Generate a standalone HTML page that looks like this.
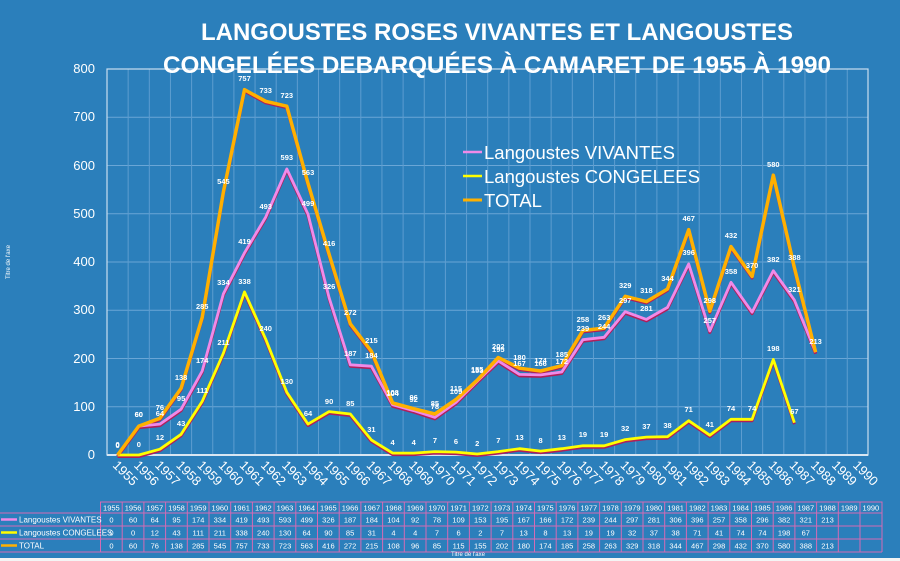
<!DOCTYPE html>
<html><head><meta charset="utf-8"><style>
body{margin:0;background:#2b7fbb;}
svg{display:block;font-family:"Liberation Sans",sans-serif;}
.t{fill:#fff;font-weight:bold;font-size:7.5px;text-anchor:middle;}
.ax{fill:#fff;font-size:13px;}
.tb{fill:#fff;font-size:7.5px;text-anchor:middle;}
</style></head><body>
<svg width="900" height="561" viewBox="0 0 900 561" xmlns="http://www.w3.org/2000/svg">
<rect width="900" height="561" fill="#2b7fbb"/>
<g stroke="#6aa6d6" stroke-width="1">
<line x1="107" y1="406.75" x2="868" y2="406.75"/><line x1="107" y1="358.5" x2="868" y2="358.5"/><line x1="107" y1="310.25" x2="868" y2="310.25"/><line x1="107" y1="262" x2="868" y2="262"/><line x1="107" y1="213.75" x2="868" y2="213.75"/><line x1="107" y1="165.5" x2="868" y2="165.5"/><line x1="107" y1="117.25" x2="868" y2="117.25"/>
</g>
<g stroke="#5d9dd0" stroke-width="1" id="vg">
<line x1="128.15" y1="69" x2="128.15" y2="455"/><line x1="149.3" y1="69" x2="149.3" y2="455"/><line x1="170.45" y1="69" x2="170.45" y2="455"/><line x1="191.6" y1="69" x2="191.6" y2="455"/><line x1="212.75" y1="69" x2="212.75" y2="455"/><line x1="233.9" y1="69" x2="233.9" y2="455"/><line x1="255.05" y1="69" x2="255.05" y2="455"/><line x1="276.2" y1="69" x2="276.2" y2="455"/><line x1="297.35" y1="69" x2="297.35" y2="455"/><line x1="318.5" y1="69" x2="318.5" y2="455"/><line x1="339.65" y1="69" x2="339.65" y2="455"/><line x1="360.8" y1="69" x2="360.8" y2="455"/><line x1="381.95" y1="69" x2="381.95" y2="455"/><line x1="403.1" y1="69" x2="403.1" y2="455"/><line x1="424.25" y1="69" x2="424.25" y2="455"/><line x1="445.4" y1="69" x2="445.4" y2="455"/><line x1="466.55" y1="69" x2="466.55" y2="455"/><line x1="487.7" y1="69" x2="487.7" y2="455"/><line x1="508.85" y1="69" x2="508.85" y2="455"/><line x1="530" y1="69" x2="530" y2="455"/><line x1="551.15" y1="69" x2="551.15" y2="455"/><line x1="572.3" y1="69" x2="572.3" y2="455"/><line x1="593.45" y1="69" x2="593.45" y2="455"/><line x1="614.6" y1="69" x2="614.6" y2="455"/><line x1="635.75" y1="69" x2="635.75" y2="455"/><line x1="656.9" y1="69" x2="656.9" y2="455"/><line x1="678.05" y1="69" x2="678.05" y2="455"/><line x1="699.2" y1="69" x2="699.2" y2="455"/><line x1="720.35" y1="69" x2="720.35" y2="455"/><line x1="741.5" y1="69" x2="741.5" y2="455"/><line x1="762.65" y1="69" x2="762.65" y2="455"/><line x1="783.8" y1="69" x2="783.8" y2="455"/><line x1="804.95" y1="69" x2="804.95" y2="455"/><line x1="826.1" y1="69" x2="826.1" y2="455"/><line x1="847.25" y1="69" x2="847.25" y2="455"/><line x1="868" y1="69" x2="868" y2="455"/>
</g>
<rect x="107" y="69" width="761" height="386" fill="none" stroke="#c9def0" stroke-width="1.2"/>
<line x1="107" y1="455" x2="868" y2="455" stroke="#d8e6f2" stroke-width="2"/>
<g class="ax" text-anchor="end">
<text x="95" y="459">0</text><text x="95" y="411">100</text><text x="95" y="363">200</text><text x="95" y="314">300</text><text x="95" y="266">400</text><text x="95" y="218">500</text><text x="95" y="170">600</text><text x="95" y="121">700</text><text x="95" y="73">800</text>
</g>
<text transform="translate(10,262) rotate(-90)" fill="#fff" font-size="6" text-anchor="middle">Titre de l'axe</text>
<!-- title -->
<text x="497" y="40" fill="#fff" font-weight="bold" font-size="24" text-anchor="middle" textLength="592" lengthAdjust="spacingAndGlyphs">LANGOUSTES ROSES VIVANTES  ET LANGOUSTES</text>
<text x="497" y="73" fill="#fff" font-weight="bold" font-size="24" text-anchor="middle" textLength="668" lengthAdjust="spacingAndGlyphs">CONGELÉES DEBARQUÉES À CAMARET DE 1955 À 1990</text>
<!-- shadows -->
<g fill="none" stroke="#b01e5a" stroke-width="3" stroke-linejoin="round" transform="translate(0,1.5)">
<polyline points="117.6,455 138.8,455 159.9,449.2 181.1,434.3 202.2,401.4 223.4,353.2 244.5,291.9 265.7,339.2 286.8,392.3 308,424.1 329.1,411.6 350.3,414 371.4,440 392.6,453.1 413.7,453.1 434.9,451.6 456,452.1 477.2,454 498.3,451.6 519.5,448.7 540.6,451.1 561.8,448.7 582.9,445.8 604.1,445.8 625.2,439.6 646.4,437.1 667.5,436.7 688.7,420.7 709.8,435.2 731,419.3 752.1,419.3 773.3,359.5 794.4,422.7"/>
<polyline points="117.6,455 138.8,426.1 159.9,424.1 181.1,409.2 202.2,371 223.4,293.8 244.5,252.8 265.7,217.1 286.8,168.9 308,214.2 329.1,297.7 350.3,364.8 371.4,366.2 392.6,404.8 413.7,410.6 434.9,417.4 456,402.4 477.2,381.2 498.3,360.9 519.5,374.4 540.6,374.9 561.8,372 582.9,339.7 604.1,337.3 625.2,311.7 646.4,319.4 667.5,307.4 688.7,263.9 709.8,331 731,282.3 752.1,312.2 773.3,270.7 794.4,300.1 815.6,352.2"/>
<polyline points="117.6,455 138.8,426.1 159.9,418.3 181.1,388.4 202.2,317.5 223.4,192 244.5,89.7 265.7,101.3 286.8,106.2 308,183.4 329.1,254.3 350.3,323.8 371.4,351.3 392.6,402.9 413.7,408.7 434.9,414 456,399.5 477.2,380.2 498.3,357.5 519.5,368.2 540.6,371 561.8,365.7 582.9,330.5 604.1,328.1 625.2,296.3 646.4,301.6 667.5,289 688.7,229.7 709.8,311.2 731,246.6 752.1,276.5 773.3,175.2 794.4,267.8 815.6,352.2"/>
</g>
<polyline fill="none" stroke="#ffff00" stroke-width="2.8" stroke-linejoin="round" points="117.6,455 138.8,455 159.9,449.2 181.1,434.3 202.2,401.4 223.4,353.2 244.5,291.9 265.7,339.2 286.8,392.3 308,424.1 329.1,411.6 350.3,414 371.4,440 392.6,453.1 413.7,453.1 434.9,451.6 456,452.1 477.2,454 498.3,451.6 519.5,448.7 540.6,451.1 561.8,448.7 582.9,445.8 604.1,445.8 625.2,439.6 646.4,437.1 667.5,436.7 688.7,420.7 709.8,435.2 731,419.3 752.1,419.3 773.3,359.5 794.4,422.7"/>
<polyline fill="none" stroke="#f08ae8" stroke-width="2.8" stroke-linejoin="round" points="117.6,455 138.8,426.1 159.9,424.1 181.1,409.2 202.2,371 223.4,293.8 244.5,252.8 265.7,217.1 286.8,168.9 308,214.2 329.1,297.7 350.3,364.8 371.4,366.2 392.6,404.8 413.7,410.6 434.9,417.4 456,402.4 477.2,381.2 498.3,360.9 519.5,374.4 540.6,374.9 561.8,372 582.9,339.7 604.1,337.3 625.2,311.7 646.4,319.4 667.5,307.4 688.7,263.9 709.8,331 731,282.3 752.1,312.2 773.3,270.7 794.4,300.1 815.6,352.2"/>
<polyline fill="none" stroke="#ffb000" stroke-width="3.5" stroke-linejoin="round" points="117.6,455 138.8,426.1 159.9,418.3 181.1,388.4 202.2,317.5 223.4,192 244.5,89.7 265.7,101.3 286.8,106.2 308,183.4 329.1,254.3 350.3,323.8 371.4,351.3 392.6,402.9 413.7,408.7 434.9,414 456,399.5 477.2,380.2 498.3,357.5 519.5,368.2 540.6,371 561.8,365.7 582.9,330.5 604.1,328.1 625.2,296.3 646.4,301.6 667.5,289 688.7,229.7 709.8,311.2 731,246.6 752.1,276.5 773.3,175.2 794.4,267.8 815.6,352.2"/>
<!-- data labels -->
<g class="t">
<text x="117.6" y="448">0</text><text x="138.8" y="447">0</text><text x="159.9" y="440">12</text><text x="181.1" y="426">43</text><text x="202.2" y="393">111</text><text x="223.4" y="345">211</text><text x="244.5" y="284">338</text><text x="265.7" y="331">240</text><text x="286.8" y="384">130</text><text x="308" y="416">64</text><text x="329.1" y="404">90</text><text x="350.3" y="406">85</text><text x="371.4" y="432">31</text><text x="392.6" y="445">4</text><text x="413.7" y="445">4</text><text x="434.9" y="443">7</text><text x="456" y="444">6</text><text x="477.2" y="446">2</text><text x="498.3" y="443">7</text><text x="519.5" y="440">13</text><text x="540.6" y="443">8</text><text x="561.8" y="440">13</text><text x="582.9" y="437">19</text><text x="604.1" y="437">19</text><text x="625.2" y="431">32</text><text x="646.4" y="429">37</text><text x="667.5" y="428">38</text><text x="688.7" y="412">71</text><text x="709.8" y="427">41</text><text x="731" y="411">74</text><text x="752.1" y="411">74</text><text x="773.3" y="351">198</text><text x="794.4" y="414">67</text>
<text x="138.8" y="417">60</text><text x="159.9" y="416">64</text><text x="181.1" y="401">95</text><text x="202.2" y="363">174</text><text x="223.4" y="285">334</text><text x="244.5" y="244">419</text><text x="265.7" y="209">493</text><text x="286.8" y="160">593</text><text x="308" y="206">499</text><text x="329.1" y="289">326</text><text x="350.3" y="356">187</text><text x="371.4" y="358">184</text><text x="392.6" y="396">104</text><text x="413.7" y="402">92</text><text x="434.9" y="409">78</text><text x="456" y="394">109</text><text x="477.2" y="373">153</text><text x="498.3" y="352">195</text><text x="519.5" y="366">167</text><text x="540.6" y="366">166</text><text x="561.8" y="364">172</text><text x="582.9" y="331">239</text><text x="604.1" y="329">244</text><text x="625.2" y="303">297</text><text x="646.4" y="311">281</text><text x="688.7" y="255">396</text><text x="709.8" y="323">257</text><text x="731" y="274">358</text><text x="773.3" y="262">382</text><text x="794.4" y="292">321</text>
<text x="117.6" y="447">0</text><text x="138.8" y="417">60</text><text x="159.9" y="410">76</text><text x="181.1" y="380">138</text><text x="202.2" y="309">285</text><text x="223.4" y="184">545</text><text x="244.5" y="81">757</text><text x="265.7" y="93">733</text><text x="286.8" y="98">723</text><text x="308" y="175">563</text><text x="329.1" y="246">416</text><text x="350.3" y="315">272</text><text x="371.4" y="343">215</text><text x="392.6" y="395">108</text><text x="413.7" y="400">96</text><text x="434.9" y="406">85</text><text x="456" y="391">115</text><text x="477.2" y="372">155</text><text x="498.3" y="349">202</text><text x="519.5" y="360">180</text><text x="540.6" y="363">174</text><text x="561.8" y="357">185</text><text x="582.9" y="322">258</text><text x="604.1" y="320">263</text><text x="625.2" y="288">329</text><text x="646.4" y="293">318</text><text x="667.5" y="281">344</text><text x="688.7" y="221">467</text><text x="709.8" y="303">298</text><text x="731" y="238">432</text><text x="752.1" y="268">370</text><text x="773.3" y="167">580</text><text x="794.4" y="260">388</text><text x="815.6" y="344">213</text>
</g>
<!-- x labels -->
<g class="ax" font-size="12.5">
<text transform="translate(112,466) rotate(45)">1955</text><text transform="translate(133.2,466) rotate(45)">1956</text><text transform="translate(154.3,466) rotate(45)">1957</text><text transform="translate(175.5,466) rotate(45)">1958</text><text transform="translate(196.6,466) rotate(45)">1959</text><text transform="translate(217.8,466) rotate(45)">1960</text><text transform="translate(238.9,466) rotate(45)">1961</text><text transform="translate(260.1,466) rotate(45)">1962</text><text transform="translate(281.2,466) rotate(45)">1963</text><text transform="translate(302.4,466) rotate(45)">1964</text><text transform="translate(323.5,466) rotate(45)">1965</text><text transform="translate(344.7,466) rotate(45)">1966</text><text transform="translate(365.8,466) rotate(45)">1967</text><text transform="translate(387,466) rotate(45)">1968</text><text transform="translate(408.1,466) rotate(45)">1969</text><text transform="translate(429.3,466) rotate(45)">1970</text><text transform="translate(450.4,466) rotate(45)">1971</text><text transform="translate(471.6,466) rotate(45)">1972</text><text transform="translate(492.7,466) rotate(45)">1973</text><text transform="translate(513.9,466) rotate(45)">1974</text><text transform="translate(535,466) rotate(45)">1975</text><text transform="translate(556.2,466) rotate(45)">1976</text><text transform="translate(577.3,466) rotate(45)">1977</text><text transform="translate(598.5,466) rotate(45)">1978</text><text transform="translate(619.6,466) rotate(45)">1979</text><text transform="translate(640.8,466) rotate(45)">1980</text><text transform="translate(661.9,466) rotate(45)">1981</text><text transform="translate(683.1,466) rotate(45)">1982</text><text transform="translate(704.2,466) rotate(45)">1983</text><text transform="translate(725.4,466) rotate(45)">1984</text><text transform="translate(746.5,466) rotate(45)">1985</text><text transform="translate(767.7,466) rotate(45)">1986</text><text transform="translate(788.8,466) rotate(45)">1987</text><text transform="translate(810,466) rotate(45)">1988</text><text transform="translate(831.1,466) rotate(45)">1989</text><text transform="translate(852.3,466) rotate(45)">1990</text>
</g>
<!-- legend -->
<line x1="463" y1="152" x2="482" y2="152" stroke="#f08ae8" stroke-width="2.5"/>
<line x1="463" y1="176" x2="482" y2="176" stroke="#ffff00" stroke-width="2.5"/>
<line x1="463" y1="200" x2="482" y2="200" stroke="#ffb000" stroke-width="3"/>
<g fill="#fff" font-size="18.5">
<text x="484" y="159">Langoustes VIVANTES</text><text x="484" y="183">Langoustes CONGELEES</text><text x="484" y="207">TOTAL</text>
</g>
<!-- table -->
<g stroke="#d36bb5" stroke-width="1" fill="none">
<rect x="100.5" y="502" width="781.5" height="11"/>
<line x1="0" y1="513" x2="882" y2="513"/><line x1="0" y1="526" x2="882" y2="526"/><line x1="0" y1="539" x2="882" y2="539"/><line x1="0" y1="552" x2="882" y2="552"/>
<line x1="100.5" y1="502" x2="100.5" y2="552"/><line x1="882" y1="502" x2="882" y2="552"/>
<path d="M122.2 502V552M143.9 502V552M165.6 502V552M187.3 502V552M209 502V552M230.7 502V552M252.4 502V552M274.1 502V552M295.8 502V552M317.5 502V552M339.2 502V552M360.9 502V552M382.6 502V552M404.3 502V552M426 502V552M447.7 502V552M469.4 502V552M491.1 502V552M512.8 502V552M534.5 502V552M556.2 502V552M577.9 502V552M599.6 502V552M621.3 502V552M643 502V552M664.7 502V552M686.4 502V552M708.1 502V552M729.8 502V552M751.5 502V552M773.2 502V552M794.9 502V552M816.6 502V552M838.3 502V552M860 502V552"/>
</g>
<line x1="1" y1="519.5" x2="17" y2="519.5" stroke="#f08ae8" stroke-width="2.5"/>
<line x1="1" y1="532.5" x2="17" y2="532.5" stroke="#ffff00" stroke-width="2.5"/>
<line x1="1" y1="545.5" x2="17" y2="545.5" stroke="#ffb000" stroke-width="2.5"/>
<g fill="#fff" font-size="8"><text x="19" y="522.5">Langoustes VIVANTES</text><text x="19" y="535.5">Langoustes CONGELEES</text><text x="19" y="548.5">TOTAL</text></g>
<g class="tb">
<text x="111.4" y="510.5">1955</text><text x="133.1" y="510.5">1956</text><text x="154.8" y="510.5">1957</text><text x="176.5" y="510.5">1958</text><text x="198.2" y="510.5">1959</text><text x="219.9" y="510.5">1960</text><text x="241.6" y="510.5">1961</text><text x="263.3" y="510.5">1962</text><text x="285" y="510.5">1963</text><text x="306.7" y="510.5">1964</text><text x="328.4" y="510.5">1965</text><text x="350.1" y="510.5">1966</text><text x="371.8" y="510.5">1967</text><text x="393.5" y="510.5">1968</text><text x="415.2" y="510.5">1969</text><text x="436.9" y="510.5">1970</text><text x="458.6" y="510.5">1971</text><text x="480.3" y="510.5">1972</text><text x="502" y="510.5">1973</text><text x="523.7" y="510.5">1974</text><text x="545.4" y="510.5">1975</text><text x="567.1" y="510.5">1976</text><text x="588.8" y="510.5">1977</text><text x="610.5" y="510.5">1978</text><text x="632.2" y="510.5">1979</text><text x="653.9" y="510.5">1980</text><text x="675.6" y="510.5">1981</text><text x="697.3" y="510.5">1982</text><text x="719" y="510.5">1983</text><text x="740.7" y="510.5">1984</text><text x="762.4" y="510.5">1985</text><text x="784.1" y="510.5">1986</text><text x="805.8" y="510.5">1987</text><text x="827.5" y="510.5">1988</text><text x="849.2" y="510.5">1989</text><text x="870.9" y="510.5">1990</text>
<text x="111.4" y="522.5">0</text><text x="133.1" y="522.5">60</text><text x="154.8" y="522.5">64</text><text x="176.5" y="522.5">95</text><text x="198.2" y="522.5">174</text><text x="219.9" y="522.5">334</text><text x="241.6" y="522.5">419</text><text x="263.3" y="522.5">493</text><text x="285" y="522.5">593</text><text x="306.7" y="522.5">499</text><text x="328.4" y="522.5">326</text><text x="350.1" y="522.5">187</text><text x="371.8" y="522.5">184</text><text x="393.5" y="522.5">104</text><text x="415.2" y="522.5">92</text><text x="436.9" y="522.5">78</text><text x="458.6" y="522.5">109</text><text x="480.3" y="522.5">153</text><text x="502" y="522.5">195</text><text x="523.7" y="522.5">167</text><text x="545.4" y="522.5">166</text><text x="567.1" y="522.5">172</text><text x="588.8" y="522.5">239</text><text x="610.5" y="522.5">244</text><text x="632.2" y="522.5">297</text><text x="653.9" y="522.5">281</text><text x="675.6" y="522.5">306</text><text x="697.3" y="522.5">396</text><text x="719" y="522.5">257</text><text x="740.7" y="522.5">358</text><text x="762.4" y="522.5">296</text><text x="784.1" y="522.5">382</text><text x="805.8" y="522.5">321</text><text x="827.5" y="522.5">213</text>
<text x="111.4" y="535.5">0</text><text x="133.1" y="535.5">0</text><text x="154.8" y="535.5">12</text><text x="176.5" y="535.5">43</text><text x="198.2" y="535.5">111</text><text x="219.9" y="535.5">211</text><text x="241.6" y="535.5">338</text><text x="263.3" y="535.5">240</text><text x="285" y="535.5">130</text><text x="306.7" y="535.5">64</text><text x="328.4" y="535.5">90</text><text x="350.1" y="535.5">85</text><text x="371.8" y="535.5">31</text><text x="393.5" y="535.5">4</text><text x="415.2" y="535.5">4</text><text x="436.9" y="535.5">7</text><text x="458.6" y="535.5">6</text><text x="480.3" y="535.5">2</text><text x="502" y="535.5">7</text><text x="523.7" y="535.5">13</text><text x="545.4" y="535.5">8</text><text x="567.1" y="535.5">13</text><text x="588.8" y="535.5">19</text><text x="610.5" y="535.5">19</text><text x="632.2" y="535.5">32</text><text x="653.9" y="535.5">37</text><text x="675.6" y="535.5">38</text><text x="697.3" y="535.5">71</text><text x="719" y="535.5">41</text><text x="740.7" y="535.5">74</text><text x="762.4" y="535.5">74</text><text x="784.1" y="535.5">198</text><text x="805.8" y="535.5">67</text>
<text x="111.4" y="548.5">0</text><text x="133.1" y="548.5">60</text><text x="154.8" y="548.5">76</text><text x="176.5" y="548.5">138</text><text x="198.2" y="548.5">285</text><text x="219.9" y="548.5">545</text><text x="241.6" y="548.5">757</text><text x="263.3" y="548.5">733</text><text x="285" y="548.5">723</text><text x="306.7" y="548.5">563</text><text x="328.4" y="548.5">416</text><text x="350.1" y="548.5">272</text><text x="371.8" y="548.5">215</text><text x="393.5" y="548.5">108</text><text x="415.2" y="548.5">96</text><text x="436.9" y="548.5">85</text><text x="458.6" y="548.5">115</text><text x="480.3" y="548.5">155</text><text x="502" y="548.5">202</text><text x="523.7" y="548.5">180</text><text x="545.4" y="548.5">174</text><text x="567.1" y="548.5">185</text><text x="588.8" y="548.5">258</text><text x="610.5" y="548.5">263</text><text x="632.2" y="548.5">329</text><text x="653.9" y="548.5">318</text><text x="675.6" y="548.5">344</text><text x="697.3" y="548.5">467</text><text x="719" y="548.5">298</text><text x="740.7" y="548.5">432</text><text x="762.4" y="548.5">370</text><text x="784.1" y="548.5">580</text><text x="805.8" y="548.5">388</text><text x="827.5" y="548.5">213</text>
</g>
<text x="468" y="556" fill="#fff" font-size="6" text-anchor="middle">Titre de l'axe</text>
<rect x="0" y="558" width="900" height="3" fill="#f4f4f4"/>
</svg>
</body></html>
